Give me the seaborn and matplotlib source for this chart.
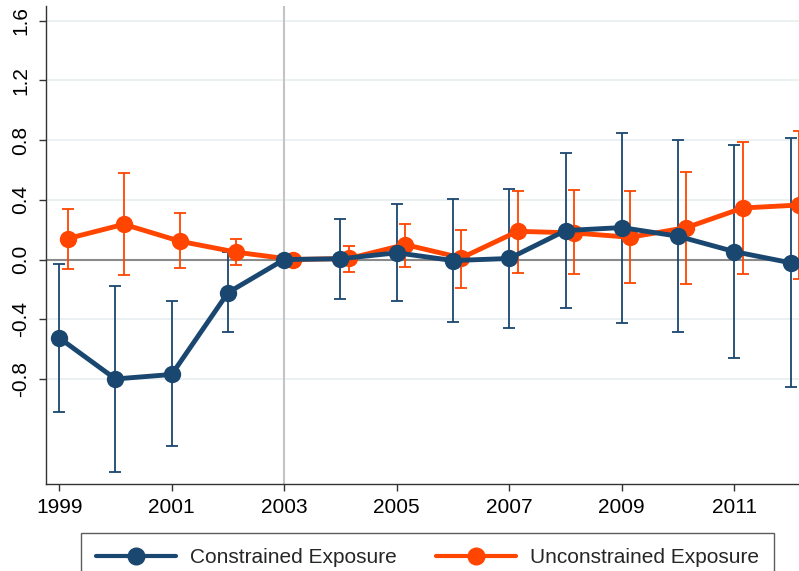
import matplotlib
matplotlib.use("Agg")
import matplotlib.pyplot as plt
import pandas as pd
import seaborn as sns

years = [1999, 2000, 2001, 2002, 2003, 2004, 2005, 2006, 2007, 2008, 2009, 2010, 2011, 2012]

con_coef = [-0.525, -0.80, -0.77, -0.222, 0.0, 0.005, 0.045, -0.007, 0.007, 0.194, 0.214, 0.156, 0.053, -0.022]
con_hi = [-0.029, -0.18, -0.28, 0.049, 0.0, 0.272, 0.369, 0.407, 0.472, 0.714, 0.848, 0.799, 0.768, 0.815]
con_lo = [-1.024, -1.42, -1.247, -0.487, 0.0, -0.267, -0.28, -0.42, -0.461, -0.327, -0.423, -0.485, -0.657, -0.853]

unc_coef = [0.14, 0.236, 0.122, 0.049, 0.0, 0.007, 0.10, 0.011, 0.189, 0.178, 0.149, 0.214, 0.345, 0.365]
unc_hi = [0.338, 0.581, 0.309, 0.138, 0.0, 0.089, 0.24, 0.20, 0.46, 0.465, 0.46, 0.585, 0.784, 0.864]
unc_lo = [-0.065, -0.107, -0.056, -0.04, 0.0, -0.085, -0.049, -0.19, -0.087, -0.098, -0.158, -0.163, -0.098, -0.131]

labels = ["Constrained Exposure", "Unconstrained Exposure"]
yticks = [-0.8, -0.4, 0.0, 0.4, 0.8, 1.2, 1.6]
xticks = [1999, 2001, 2003, 2005, 2007, 2009, 2011]


def main():
    sns.set_theme(style="white")
    plt.rcParams['font.family'] = ['Liberation Sans', 'DejaVu Sans']

    navy = "#1a476f"
    orange = "#ff4500"
    shift = 0.15  # unconstrained series drawn slightly to the right

    df = pd.concat([
        pd.DataFrame({"year": years, "coef": con_coef, "lo": con_lo,
                      "hi": con_hi, "group": labels[0]}),
        pd.DataFrame({"year": [y + shift for y in years], "coef": unc_coef,
                      "lo": unc_lo, "hi": unc_hi, "group": labels[1]}),
    ], ignore_index=True)

    fig = plt.figure(figsize=(7.99, 5.71), dpi=100)
    ax = fig.add_axes([0.0572, 0.152, 0.9428, 0.838])

    for y in yticks:
        if y != 0:
            ax.axhline(y, color="#e8eff1", lw=1.2, zorder=0)
    ax.axhline(0, color="#8a8a8a", lw=1.5, zorder=1)
    ax.axvline(2003, color="#c4c4c4", lw=1.5, zorder=1)

    palette = {labels[0]: navy, labels[1]: orange}
    for name, color in palette.items():
        d = df[df["group"] == name]
        d = d[d["hi"] != d["lo"]]
        ax.errorbar(d["year"], d["coef"],
                    yerr=[d["coef"] - d["lo"], d["hi"] - d["coef"]],
                    fmt="none", ecolor=color, elinewidth=1.3,
                    capsize=4.5, capthick=1.3, zorder=2)

    plot = sns.lineplot(data=df, x="year", y="coef", hue="group",
                        hue_order=labels[::-1], palette=palette,
                        marker="o", markersize=12.5, markeredgewidth=0,
                        linewidth=3.5, dashes=False, ax=ax, zorder=3,
                        legend=False)

    plot.set_xlim(1998.76, 2012.15)
    plot.set_ylim(-1.505, 1.70)
    plot.set_xticks(xticks)
    plot.set_yticks(yticks)
    plot.set_yticklabels([f"{v:.1f}" for v in yticks], rotation=90,
                         va="center", fontsize=15)
    plot.set_xticklabels([str(v) for v in xticks], fontsize=15)
    plot.set_xlabel("")
    plot.set_ylabel("")
    plot.tick_params(axis="both", which="both", direction="out",
                     length=5, width=1, color="#333333", colors="black",
                     left=True, bottom=True)
    plot.tick_params(axis="y", pad=6)
    plot.tick_params(axis="x", pad=5)
    for side in ["top", "right"]:
        ax.spines[side].set_visible(False)
    for side in ["left", "bottom"]:
        ax.spines[side].set_color("#333333")
        ax.spines[side].set_linewidth(1)

    handles = [plt.Line2D([], [], color=navy, lw=3, marker="o",
                          markersize=12),
               plt.Line2D([], [], color=orange, lw=3, marker="o",
                          markersize=12)]
    leg = fig.legend(handles, labels, loc="upper center", ncol=2,
                     bbox_to_anchor=(0.535, 0.066), fontsize=15,
                     frameon=True, fancybox=False, handlelength=3.85,
                     handletextpad=0.67, columnspacing=1.87,
                     borderpad=0.7, borderaxespad=0)
    leg.get_frame().set_edgecolor("#333333")
    leg.get_frame().set_linewidth(1)

    plt.savefig("out.png", dpi=100)
    plt.close()


if __name__ == '__main__':
    main()
